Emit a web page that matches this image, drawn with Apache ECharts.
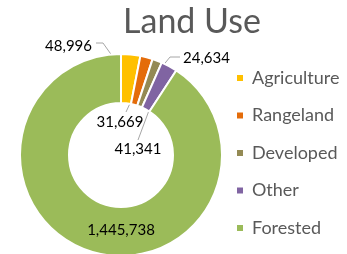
<!DOCTYPE html>
<html>
<head>
<meta charset="utf-8">
<script src="https://cdn.jsdelivr.net/npm/echarts@6/dist/echarts.min.js"></script>
<style>
html,body{margin:0;padding:0;background:#fff;}
#chart{width:347px;height:254px;}
</style>
</head>
<body>
<div id="chart"></div>
<script>
// ---- data ----
const categories = ['Agriculture', 'Rangeland', 'Developed', 'Other', 'Forested'];
const values = [48996, 31669, 24634, 41341, 1445738];
const colors = ['#FFC000', '#E46C0A', '#948A54', '#8064A2', '#9BBB59'];
const titleText = 'Land Use';

// ---- layout/style ----
const CX = 121, CY = 155, R_IN = 52, R_OUT = 101;
const R_MID = (R_IN + R_OUT) / 2;
const FONT = 'Lato';

const total = values.reduce((a, b) => a + b, 0);
const midAngles = [];
{
  let acc = 0;
  values.forEach(v => {
    const span = v / total * 360;
    midAngles.push(acc + span / 2);
    acc += span;
  });
}
function anchorPoint(i) {
  const a = midAngles[i] * Math.PI / 180;
  return [CX + R_MID * Math.sin(a), CY - R_MID * Math.cos(a)];
}
// label placement (text anchor, align, line start / elbow)
const labelPlace = [
  { x: 92, y: 46, align: 'right', line: [[96, 43], [103, 43]] },
  { x: 120, y: 122, align: 'center', line: [[126, 112]] },
  { x: 183, y: 58, align: 'left', line: [[180, 57], [170, 57]] },
  { x: 138, y: 149, align: 'center', line: [[138, 140]] },
  { x: 121, y: 230, align: 'center', line: null }
];

const fmt = v => v.toLocaleString('en-US');

const chart = echarts.init(document.getElementById('chart'), null, { renderer: 'canvas' });
chart.setOption({
  animation: false,
  backgroundColor: '#fff',
  title: {
    text: titleText,
    left: 187,
    textAlign: 'center',
    top: 0,
    textStyle: { fontFamily: FONT, fontSize: 34, fontWeight: 'normal', color: '#595959' }
  },
  legend: {
    orient: 'vertical',
    left: 235,
    top: 68,
    padding: 0,
    itemWidth: 8,
    itemHeight: 8,
    itemGap: 17.5,
    icon: 'rect',
    data: categories,
    textStyle: { fontFamily: FONT, fontSize: 18, lineHeight: 20, color: '#595959', padding: [0, 0, 0, 3] }
  },
  series: [{
    type: 'pie',
    center: [CX, CY],
    radius: [R_IN, R_OUT],
    startAngle: 90,
    clockwise: true,
    avoidLabelOverlap: false,
    itemStyle: { borderColor: '#fff', borderWidth: 2 },
    label: {
      show: true,
      position: 'outside',
      formatter: p => fmt(p.value),
      fontFamily: FONT,
      fontSize: 15,
      color: '#000'
    },
    labelLine: { show: true, lineStyle: { color: '#A6A6A6', width: 1 } },
    labelLayout: function (p) {
      const lp = labelPlace[p.dataIndex];
      const out = { x: lp.x, y: lp.y, align: lp.align, verticalAlign: 'middle' };
      if (lp.line) {
        const pts = lp.line.concat([anchorPoint(p.dataIndex)]);
        out.labelLinePoints = pts.length === 3 ? pts : [pts[0], pts[0], pts[1]];
      }
      return out;
    },
    data: categories.map((c, i) => ({
      name: c,
      value: values[i],
      itemStyle: { color: colors[i] },
      labelLine: { show: i !== 4 }
    }))
  }]
});
</script>
</body>
</html>
